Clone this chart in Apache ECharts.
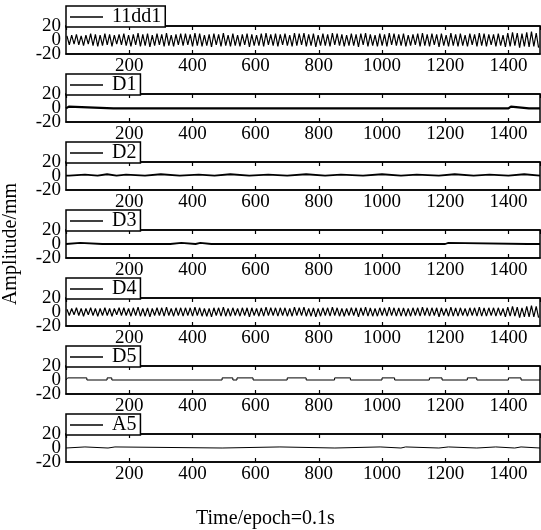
<!DOCTYPE html>
<html>
<head>
<meta charset="utf-8">
<script src="https://cdn.jsdelivr.net/npm/echarts@6/dist/echarts.min.js"></script>
<style>
  html, body { margin: 0; padding: 0; background: #fff; }
  #chart { width: 541px; height: 530px; }
</style>
</head>
<body>
<div id="chart"></div>
<script>
// names shown in the little legend boxes, top to bottom
const seriesNames = ['11dd1', 'D1', 'D2', 'D3', 'D4', 'D5', 'A5']
const xMin = 0
const xMax = 1500
const xInterval = 200
const yMin = -20
const yMax = 20
const yEdgeInterval = 40   // labels -20 and 20
const yMidLabels = [0]     // the label in between
const xTitle = 'Time/epoch=0.1s'
const yTitle = 'Amplitude/mm'

// oscillating signals: successive peak / trough values
const sampleStep = 7.5
const wave11dd1 = [
  6, -7, 7, -6, 8, -7, 6, -8, 7, -6,
  9, -8, 8, -9, 7, -8, 9, -7, 8, -9,
  7, -6, 8, -7, 9, -8, 7, -9, 8, -7,
  10, -9, 8, -8, 9, -10, 7, -8, 9, -7,
  8, -9, 10, -8, 7, -9, 8, -7, 9, -8,
  9, -7, 8, -9, 10, -8, 9, -9, 7, -8,
  8, -10, 9, -7, 8, -9, 10, -8, 7, -9,
  9, -8, 7, -9, 8, -7, 9, -10, 8, -8,
  7, -8, 9, -9, 10, -7, 8, -8, 9, -9,
  8, -7, 9, -8, 7, -9, 10, -8, 9, -7,
  10, -9, 8, -8, 9, -10, 7, -8, 9, -8,
  8, -9, 10, -7, 9, -8, 8, -9, 7, -8,
  9, -8, 8, -10, 9, -7, 10, -9, 8, -8,
  7, -9, 9, -8, 8, -9, 10, -7, 9, -8,
  8, -8, 9, -9, 7, -8, 8, -7, 9, -9,
  10, -8, 8, -9, 9, -7, 8, -10, 9, -8,
  7, -9, 10, -8, 8, -9, 9, -8, 7, -9,
  9, -7, 8, -9, 10, -8, 9, -9, 8, -7,
  8, -9, 9, -8, 7, -10, 10, -9, 11, -8,
  10, -11, 9, -9, 11, -10, 12, -9, 10, -11
]
const waveD4 = [
  4, -5, 5, -4, 6, -5, 5, -6, 5, -4,
  6, -5, 5, -6, 5, -5, 6, -5, 5, -6,
  5, -4, 6, -5, 6, -5, 5, -6, 6, -5,
  7, -6, 5, -6, 6, -7, 5, -5, 6, -5,
  6, -6, 7, -5, 5, -6, 6, -5, 6, -6,
  6, -5, 6, -6, 7, -5, 6, -6, 5, -6,
  5, -7, 6, -5, 6, -6, 7, -6, 5, -6,
  6, -5, 5, -6, 6, -5, 6, -7, 6, -5,
  5, -6, 6, -6, 7, -5, 6, -5, 6, -6,
  6, -5, 6, -6, 5, -6, 7, -5, 6, -5,
  7, -6, 5, -6, 6, -7, 5, -6, 6, -5,
  6, -6, 7, -5, 6, -6, 5, -6, 5, -5,
  6, -5, 6, -7, 6, -5, 7, -6, 6, -6,
  5, -6, 6, -5, 6, -6, 7, -5, 6, -6,
  6, -6, 6, -6, 5, -6, 6, -5, 6, -6,
  7, -5, 6, -6, 6, -5, 6, -7, 6, -5,
  5, -6, 7, -6, 6, -6, 6, -5, 5, -6,
  6, -5, 6, -6, 7, -6, 6, -6, 6, -5,
  6, -6, 6, -5, 5, -7, 7, -6, 8, -6,
  7, -8, 6, -7, 8, -7, 9, -7, 8, -8
]

// nearly flat signals: baseline plus short excursions [start, end, level]
const baseD1 = -0.5
const bumpsD1 = [[5, 9, 2], [150, 156, 1.5], [190, 196, -2], [340, 345, 1.5], [510, 515, -1.5],
  [628, 633, 1], [640, 646, -1.5], [660, 664, 1.5], [676, 680, -1.5], [1400, 1408, 2], [1465, 1470, -1.5]]
const baseD2 = 0.5
const bumpsD2 = [[10, 60, 2], [100, 130, 2.5], [160, 190, 2], [250, 300, 2.5], [360, 420, 2],
  [470, 520, 2.5], [580, 640, 2], [700, 760, 2.5], [820, 870, 2], [940, 1000, 2.5], [1060, 1110, 2],
  [1180, 1230, 2.5], [1290, 1340, 2], [1400, 1450, 2.5]]
const baseD3 = 0
const bumpsD3 = [[5, 45, 1.5], [115, 120, 1.5], [330, 365, 1.5], [410, 425, 1.5], [460, 465, 1.5],
  [510, 515, 1.5], [900, 905, 1.5], [1200, 1210, 1.5], [1460, 1465, 1.5]]
const baseD5 = 0
const bumpsD5 = [[5, 66, 3], [130, 145, 3], [494, 528, 3], [541, 592, 3], [700, 760, 3],
  [850, 900, 3], [1000, 1040, 3], [1150, 1190, 3], [1270, 1300, 3], [1400, 1440, 3]]
const baseA5 = 0
const bumpsA5 = [[0, 60, 1.5], [133, 155, 1.5], [494, 677, 1.5], [851, 994, 1.5], [1060, 1075, 1.5],
  [1180, 1210, 1.5], [1300, 1360, 1.5], [1420, 1440, 1.5]]

function waveToPairs (vals) {
  return vals.map((v, i) => [3 + i * sampleStep, v])
}
function bumpsToPairs (base, bumps) {
  const out = [[xMin, base]]
  bumps.forEach(b => {
    out.push([b[0], base], [b[0], b[2]], [b[1], b[2]], [b[1], base])
  })
  out.push([xMax, base])
  return out
}

const seriesData = [
  waveToPairs(wave11dd1),
  bumpsToPairs(baseD1, bumpsD1),
  bumpsToPairs(baseD2, bumpsD2),
  bumpsToPairs(baseD3, bumpsD3),
  waveToPairs(waveD4),
  bumpsToPairs(baseD5, bumpsD5),
  bumpsToPairs(baseA5, bumpsA5)
]
const lineWidths = [1.2, 2.2, 1.8, 1.8, 1.2, 1, 1]

const font = 'Liberation Serif'
const panelTops = [26, 94, 162, 230, 298, 366, 434]
const panelHeight = 28

const grid = []
const xAxis = []
const yAxis = []
const legend = []
const series = []
const yLabelStyle = {
  color: '#000', fontFamily: font, fontSize: 19, margin: 5, padding: [0, 0, 7, 0],
  formatter: v => String(v)
}
const xLine = { show: true, onZero: false, lineStyle: { color: '#000', width: 1.5 } }
const tickStyle = { show: true, inside: true, length: 4, lineStyle: { color: '#000', width: 1.2 } }
panelTops.forEach((top, i) => {
  grid.push({
    left: 66, right: 1, top: top, height: panelHeight, outerBoundsMode: 'none', containLabel: false,
    show: true, borderColor: '#000', borderWidth: 1.5
  })
  // bottom axis with labels
  xAxis.push({
    type: 'value', gridIndex: i, position: 'bottom', min: xMin, max: xMax, interval: xInterval,
    axisLine: xLine,
    axisTick: tickStyle,
    axisLabel: {
      color: '#000', fontFamily: font, fontSize: 19, margin: 3,
      showMinLabel: false, showMaxLabel: false, formatter: v => String(v)
    },
    splitLine: { show: false }
  })
  // top axis, ticks only
  xAxis.push({
    type: 'value', gridIndex: i, position: 'top', min: xMin, max: xMax, interval: xInterval,
    axisLine: xLine,
    axisTick: tickStyle,
    axisLabel: { show: false },
    splitLine: { show: false }
  })
  // y axis carrying the -20 / 20 labels
  yAxis.push({
    type: 'value', gridIndex: i, position: 'left', min: yMin, max: yMax, interval: yEdgeInterval,
    axisLine: { show: false, onZero: false },
    axisTick: { show: false },
    axisLabel: Object.assign({ showMinLabel: true, showMaxLabel: true }, yLabelStyle),
    splitLine: { show: false }
  })
  // second y axis on the same side carrying the 0 label
  yAxis.push({
    type: 'value', gridIndex: i, position: 'left', min: yMin, max: yMax,
    axisLine: { show: false, onZero: false },
    axisTick: { show: false },
    axisLabel: Object.assign({ customValues: yMidLabels }, yLabelStyle),
    splitLine: { show: false }
  })
  legend.push({
    data: [seriesNames[i]], left: 66, top: top - 20,
    icon: 'rect', itemWidth: 33, itemHeight: 1.5,
    backgroundColor: '#fff', borderColor: '#000', borderWidth: 1.5,
    padding: [1, 4, 0, 4], selectedMode: false, z: 10,
    textStyle: { color: '#000', fontFamily: font, fontSize: 20, lineHeight: 20, padding: [0, 0, 0, 4] }
  })
  series.push({
    name: seriesNames[i], type: 'line', xAxisIndex: i * 2, yAxisIndex: i * 2,
    data: seriesData[i], showSymbol: false, animation: false,
    lineStyle: { color: '#000', width: lineWidths[i] },
    itemStyle: { color: '#000' }
  })
})

const chart = echarts.init(document.getElementById('chart'))
chart.setOption({
  animation: false,
  title: { text: xTitle, left: 191, top: 504, textStyle: { color: '#000', fontFamily: font, fontSize: 20, fontWeight: 'normal' } },
  graphic: [{
    type: 'text', x: 11, y: 244, rotation: Math.PI / 2,
    style: { text: yTitle, fill: '#000', font: '20px "Liberation Serif"', align: 'center', verticalAlign: 'middle' }
  }],
  grid: grid,
  xAxis: xAxis,
  yAxis: yAxis,
  legend: legend,
  series: series
})
</script>
</body>
</html>
